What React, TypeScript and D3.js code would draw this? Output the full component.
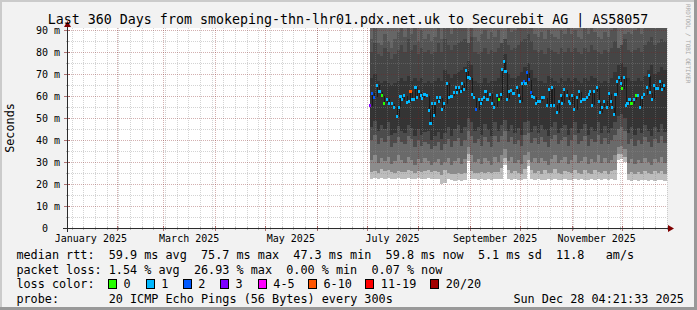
import React from 'react';
import * as d3 from 'd3';

// ---------- data ----------
const START = Date.UTC(2025, 0, 2, 4, 21, 33);
const END = Date.UTC(2025, 11, 28, 4, 21, 33);
const DAY = 86400000;
const JUL1 = Date.UTC(2025, 6, 1);

const title = 'Last 360 Days from smokeping-thn-lhr01.pdx.net.uk to Securebit AG | AS58057';
const yTickValues = [0, 10, 20, 30, 40, 50, 60, 70, 80, 90];
const yMinorValues = [5, 15, 25, 35, 45, 55, 65, 75, 85];
const monthLabels = ['January 2025', 'March 2025', 'May 2025', 'July 2025', 'September 2025', 'November 2025'];
const monthLabelIdx = [0, 2, 4, 6, 8, 10];

// medians: day offset from Jul 1, value in ms, lost pings
const medDay = [
  2.0, 3.2, 4.4, 6.2, 7.6, 9.2, 10.4, 12.0, 13.2, 15.2,
  16.4, 18.0, 19.2, 20.2, 21.2, 22.4, 24.0, 25.2, 26.2, 27.2,
  28.4, 29.2, 30.0, 31.2, 32.6, 33.2, 34.6, 36.0, 37.2, 38.2,
  39.2, 40.1, 41.0, 42.0, 43.2, 44.0, 45.2, 46.4, 48.0, 49.2,
  50.8, 52.4, 53.3, 54.2, 55.2, 56.4, 57.2, 58.4, 59.6, 61.0,
  62.0, 63.2, 64.4, 65.6, 67.2, 68.4, 69.2, 70.4, 71.2, 72.4,
  74.0, 75.2, 76.4, 78.0, 79.2, 80.4, 81.2, 82.4, 83.2, 84.0,
  85.2, 86.4, 87.6, 88.4, 90.0, 91.2, 92.0, 93.2, 94.4, 95.2,
  96.0, 97.2, 98.4, 99.2, 100.4, 101.6, 102.8, 104.0, 105.2, 106.4,
  108.0, 109.2, 110.4, 111.2, 112.4, 114.0, 115.2, 116.4, 117.2, 118.4,
  120.0, 121.2, 122.0, 123.2, 124.4, 126.0, 127.2, 128.4, 129.6, 130.8,
  132.0, 133.2, 134.0, 135.2, 136.4, 138.0, 139.2, 140.0, 141.2, 142.4,
  144.0, 145.2, 146.4, 147.2, 148.4, 149.2, 150.0, 151.2, 152.4, 153.2,
  154.4, 155.6, 156.4, 157.6, 158.8, 160.4, 161.6, 162.8, 164.0, 165.2,
  166.4, 168.0, 169.2, 170.0, 171.2, 172.4, 173.6, 174.8, 176.0, 177.2, 178.4,
];
const medVal = [
  55.5, 61.2, 59.4, 65.0, 62.0, 60.1, 56.8, 58.6, 56.4, 56.4,
  55.0, 50.5, 55.0, 59.7, 58.3, 60.1, 57.1, 57.4, 62.0, 58.3,
  58.3, 64.0, 59.2, 62.0, 60.1, 59.0, 60.5, 60.1, 53.6, 47.4,
  56.5, 51.0, 56.8, 59.2, 57.4, 59.2, 54.0, 56.5, 65.9, 59.5,
  59.8, 61.4, 64.0, 61.4, 63.8, 62.0, 65.9, 62.9, 71.4, 68.6,
  68.0, 60.5, 59.2, 53.8, 58.3, 56.5, 58.3, 59.5, 62.0, 58.6,
  60.8, 56.8, 55.0, 60.1, 58.3, 60.5, 72.0, 75.6, 71.0, 58.6,
  62.0, 62.6, 61.0, 61.0, 63.8, 60.1, 57.4, 65.6, 66.8, 65.6,
  70.5, 67.4, 61.4, 59.9, 59.5, 56.5, 57.7, 57.7, 59.2, 59.2,
  55.6, 62.9, 55.6, 63.8, 55.9, 52.3, 57.7, 60.1, 56.8, 62.9,
  60.1, 57.4, 56.5, 60.1, 53.8, 59.2, 62.0, 57.7, 58.3, 58.3,
  59.2, 60.5, 62.0, 55.9, 62.0, 63.8, 57.4, 52.3, 55.0, 57.7,
  55.0, 61.0, 57.7, 54.7, 51.4, 60.5, 66.8, 68.6, 65.6, 63.2,
  68.3, 55.6, 56.5, 58.3, 56.5, 58.3, 60.1, 60.1, 55.0, 59.5,
  60.5, 64.0, 69.2, 61.4, 58.6, 64.7, 63.2, 63.2, 66.5, 62.9, 64.7,
];
const medLoss = [
  3, 2, 2, 1, 1, 0, 0, 1, 1, 1,
  1, 1, 1, 1, 1, 1, 1, 1, 8, 1,
  1, 1, 1, 1, 1, 1, 1, 1, 1, 1,
  1, 1, 1, 1, 1, 1, 1, 1, 1, 1,
  1, 1, 1, 1, 1, 1, 1, 1, 1, 1,
  1, 1, 1, 2, 1, 1, 1, 1, 1, 1,
  1, 1, 1, 1, 0, 1, 1, 1, 1, 1,
  1, 1, 1, 1, 1, 1, 1, 1, 2, 1,
  2, 2, 2, 1, 1, 1, 1, 1, 1, 1,
  1, 1, 1, 1, 1, 1, 1, 1, 1, 1,
  1, 1, 1, 1, 1, 1, 1, 1, 1, 1,
  1, 1, 1, 1, 1, 1, 1, 1, 1, 1,
  1, 1, 1, 1, 1, 1, 1, 1, 1, 0,
  1, 1, 1, 1, 0, 1, 0, 1, 1, 1,
  1, 1, 1, 1, 1, 1, 1, 1, 1, 1, 1,
];

// smoke: 2-day columns from Jul 3, band boundaries (ms)
const smokeLo = [
  22.5, 22.8, 22.3, 22.6, 22.4, 22.7, 22.5, 22.3, 22.6, 22.5,
  22.4, 22.8, 22.5, 22.3, 22.6, 22.4, 22.5, 22.7, 22.3, 22.5,
  22.4, 20.2, 20.4, 22.2, 21.6, 21.5, 21.7, 21.5, 21.6, 30.5,
  22.3, 22.1, 22.0, 22.2, 21.9, 22.1, 22.0, 22.2, 22.1, 22.3,
  28.5, 22.2, 22.0, 22.1, 22.0, 21.9, 22.2, 28.0, 22.1, 22.0,
  22.1, 21.9, 22.0, 22.2, 22.0, 22.1, 21.9, 22.0, 22.1, 22.0,
  21.9, 22.1, 22.0, 22.2, 22.0, 21.9, 22.1, 22.0, 22.2, 22.0,
  22.1, 21.9, 22.2, 22.0, 31.0, 31.2, 30.0, 21.6, 21.5, 21.6,
  21.5, 21.7, 21.6, 21.5, 21.6, 21.5, 21.7, 21.6, 21.5,
];
const smokeQ1 = [
  25.5, 26.0, 25.2, 27.0, 25.8, 26.2, 25.5, 25.0, 26.0, 25.6,
  25.4, 26.3, 25.8, 25.2, 26.0, 25.5, 25.8, 26.2, 25.3, 25.7,
  25.5, 24.0, 26.5, 25.0, 24.5, 24.6, 24.8, 24.4, 25.0, 33.5,
  25.8, 25.2, 25.0, 25.5, 25.0, 25.3, 25.1, 25.6, 25.4, 27.5,
  32.0, 26.5, 24.8, 26.0, 25.0, 24.6, 27.0, 31.0, 26.2, 24.9,
  25.8, 24.6, 26.4, 25.0, 24.8, 26.6, 25.2, 24.7, 26.0, 25.3,
  24.8, 26.2, 25.0, 24.6, 26.5, 25.1, 24.7, 26.3, 25.4, 24.9,
  26.0, 24.7, 25.8, 26.4, 33.5, 33.8, 32.5, 24.5, 25.6, 24.4,
  25.5, 24.6, 26.0, 24.8, 24.4, 25.7, 24.9, 26.1, 24.5,
];
const smokeQ2 = [
  31, 33, 29.5, 32, 30.5, 32.5, 29, 30.5, 33, 31,
  29.5, 32.5, 31, 28.5, 31.5, 29.5, 32, 30.5, 28.5, 30,
  31.5, 28.5, 30, 32, 28.5, 30.5, 32, 29, 31.5, 37,
  33, 30, 31.5, 29, 32, 30.5, 28.5, 32.5, 30, 33,
  36, 30.5, 32.5, 29.5, 31, 29, 33, 34.5, 30, 32,
  29.5, 32, 30.5, 28.5, 31.5, 33, 29.5, 31, 32.5, 29,
  31, 33, 29.5, 30.5, 32.5, 29, 31.5, 30, 33, 29.5,
  32, 29.5, 31, 33, 37, 37.5, 36, 29.5, 31.5, 29,
  31, 29.5, 32, 30, 28.5, 31.5, 30, 32.5, 29.5,
];
const smokeQ3 = [
  40, 42.5, 38, 41, 39, 42, 37, 38.5, 41.5, 39,
  38, 42, 40.5, 37, 40, 37.5, 39, 38, 36, 37.5,
  39, 35.5, 38, 40.5, 37, 39.5, 41, 37.5, 40, 44,
  42, 38.5, 40.5, 37.5, 41.5, 39, 37, 42, 39, 42,
  44, 39, 41.5, 38, 40, 37.5, 42.5, 43, 38.5, 41,
  38, 41.5, 39, 37, 40.5, 42.5, 38, 40, 41.5, 37.5,
  40, 42.5, 38, 39.5, 42, 37.5, 40.5, 39, 42.5, 38,
  41, 38, 40, 42.5, 45, 46, 44, 38, 40.5, 37.5,
  40, 38, 41.5, 39, 37, 40.5, 38.5, 42, 38.5,
];
const smokeQ4 = [
  46, 48.5, 44, 47, 45, 48, 42.5, 43, 46.5, 44,
  43, 47, 45.5, 42, 45, 42.5, 43.5, 44, 40, 42,
  43.5, 40.5, 43, 46, 42, 45, 47, 43, 46, 50,
  48, 44, 46, 42.5, 47.5, 44.5, 42, 48, 44, 47,
  49, 44, 47, 43, 45.5, 42.5, 48, 48.5, 43.5, 46.5,
  43, 47, 44.5, 42, 46, 48, 43, 45.5, 47, 42.5,
  45.5, 48, 43, 45, 47.5, 42.5, 46, 44, 48, 43,
  46.5, 43, 45.5, 48, 51, 52, 50, 43, 46, 42.5,
  45.5, 43, 47, 44, 42, 46, 43.5, 47.5, 43.5,
];
const smokeQ5 = [
  68, 70, 67, 66, 67, 66, 65, 66, 67, 68,
  67, 69, 67, 68, 67, 68, 66, 67, 66, 67,
  68, 67, 72, 70, 68, 70, 71, 72, 73, 76,
  74, 67, 66, 66, 68, 66, 67, 67, 68, 72,
  79, 70, 68, 68, 69, 71, 73, 75, 72, 68,
  67, 67, 66, 69, 68, 67, 66, 68, 67, 68,
  67, 68, 67, 66, 68, 67, 69, 68, 67, 66,
  67, 66, 68, 71, 74, 75, 73, 68, 67, 67,
  68, 67, 69, 72, 74, 70, 71, 73, 72,
];
const smokeQ6 = [
  80, 84, 79, 78, 82, 80, 77, 79, 81, 83,
  80, 86, 81, 83, 79, 82, 80, 81, 79, 80,
  84, 80, 86, 83, 81, 83, 84, 85, 86, 88,
  87, 80, 79, 80, 82, 79, 81, 80, 82, 85,
  92, 83, 81, 82, 83, 85, 86, 88, 85, 81,
  80, 81, 79, 82, 81, 80, 79, 82, 80, 82,
  80, 82, 80, 79, 82, 80, 83, 81, 80, 79,
  81, 80, 82, 85, 86, 88, 86, 81, 80, 81,
  82, 80, 83, 85, 87, 83, 84, 86, 85,
];
const smokeQ7 = [
  86, 92, 84, 83, 88, 85, 82, 86, 89, 93,
  87, 95, 88, 92, 85, 90, 86, 88, 85, 87,
  94, 86, 95, 92, 88, 91, 93, 94, 95, 84,
  96, 87, 85, 88, 90, 86, 89, 87, 90, 84,
  86, 92, 89, 90, 92, 93, 95, 96, 93, 88,
  87, 89, 86, 90, 88, 87, 86, 90, 88, 91,
  88, 90, 87, 86, 91, 88, 92, 89, 87, 86,
  89, 87, 90, 94, 82, 83, 88, 89, 88, 90,
  91, 88, 92, 94, 95, 91, 93, 95, 94,
];
const smokeColors = ['#bdbdbd', '#8c8c8c', '#6a6a6a', '#4c4c4c', '#343434', '#454545', '#545454', '#666666'];

const lossLabels = ['0', '1', '2', '3', '4-5', '6-10', '11-19', '20/20'];
const lossColors = ['#26ff00', '#00b8ff', '#0059ff', '#7e00ff', '#ff00ff', '#ff5500', '#ff0000', '#a10000'];
const lossUpper = [0, 1, 2, 3, 5, 10, 19, 20];

const legendLine1 = ['median rtt:', '59.9 ms avg', '75.7 ms max', '47.3 ms min', '59.8 ms now', '5.1 ms sd', '11.8', 'am/s'];
const legendLine1Col = [0, 13, 26, 39, 52, 65, 76, 83];
const legendLine2 = ['packet loss:', '1.54 % avg', '26.93 % max', '0.00 % min', '0.07 % now'];
const legendLine2Col = [0, 13, 25, 38, 50];
const probeText = ['probe:', '20 ICMP Echo Pings (56 Bytes) every 300s', 'Sun Dec 28 04:21:33 2025'];
const probeCol = [0, 13, 70];

// ---------- layout ----------
const W = 697, H = 310;
const PL = 67, PR = 667, PT = 28, PB = 228;
const FONT = 'DejaVu Sans Mono';
const CH = 7.1; // legend char advance
const LX = 16.4;

function lossColor(l: number) {
  for (let i = 0; i < lossUpper.length; i++) if (l <= lossUpper[i]) return lossColors[i];
  return lossColors[lossColors.length - 1];
}

export default function App() {
  const x = d3.scaleUtc().domain([START, END]).range([PL, PR]);
  const y = d3.scaleLinear().domain([0, (PB - PT) / 2.2]).range([PB, PT]);
  const yMax = y.domain()[1];

  const months = d3.utcMonth.range(new Date(START), new Date(END)).map(d => d.getTime()).filter(t => t > START);
  const weeks = d3.utcSunday.range(new Date(START), new Date(END)).map(d => d.getTime());
  const labelTimes = monthLabelIdx.map(m => {
    const a = Date.UTC(2025, m, 1), b = Date.UTC(2025, m + 1, 1);
    return (a + b) / 2;
  });

  const bands = [smokeLo, smokeQ1, smokeQ2, smokeQ3, smokeQ4, smokeQ5, smokeQ6, smokeQ7];
  const smokeRects: any[] = [];
  smokeLo.forEach((_, k) => {
    const t0 = JUL1 + (2 + 2 * k) * DAY;
    const x0 = x(t0);
    const x1 = Math.min(x(t0 + 2 * DAY), PR);
    for (let b = 0; b < bands.length; b++) {
      const lo = bands[b][k];
      const hi = b + 1 < bands.length ? bands[b + 1][k] : yMax;
      const l = Math.min(lo, yMax), h = Math.min(hi, yMax);
      if (h <= l) continue;
      smokeRects.push(
        <rect key={`s${k}-${b}`} x={x0} width={x1 - x0 + 0.05} y={y(h)} height={y(l) - y(h)} fill={smokeColors[b]} />
      );
    }
  });

  const medX = medDay.map(d => x(JUL1 + d * DAY));

  const grey = '#8C8C8C';
  const red = '#821E1E';

  return (
    <svg width={W} height={H} style={{ position: 'absolute', left: 0, top: 0 }} fontFamily={FONT}>
      <rect x={0} y={0} width={W} height={H} fill="#f2f2f2" />
      <rect x={0} y={0} width={W} height={2} fill="#cbcbcb" />
      <rect x={0} y={0} width={2} height={H} fill="#cbcbcb" />
      <rect x={W - 3} y={0} width={3} height={H} fill="#999999" />
      <rect x={0} y={H - 3} width={W} height={3} fill="#999999" />

      <rect x={PL} y={PT} width={PR - PL} height={PB - PT} fill="#ffffff" />

      <g shapeRendering="crispEdges">{smokeRects}</g>

      <g shapeRendering="crispEdges" strokeWidth={1} strokeDasharray="1,1">
        {yMinorValues.map(v => (
          <line key={`hm${v}`} x1={PL} x2={PR} y1={Math.round(y(v)) + 0.5} y2={Math.round(y(v)) + 0.5} stroke={grey} strokeOpacity={0.38} />
        ))}
        {weeks.map(t => (
          <line key={`vw${t}`} x1={Math.round(x(t)) + 0.5} x2={Math.round(x(t)) + 0.5} y1={PT} y2={PB} stroke={grey} strokeOpacity={0.38} />
        ))}
        {yTickValues.filter(v => v > 0).map(v => (
          <line key={`hM${v}`} x1={PL} x2={PR} y1={Math.round(y(v)) + 0.5} y2={Math.round(y(v)) + 0.5} stroke={red} strokeOpacity={0.35} />
        ))}
        {months.map(t => (
          <line key={`vM${t}`} x1={Math.round(x(t)) + 0.5} x2={Math.round(x(t)) + 0.5} y1={PT} y2={PB} stroke={red} strokeOpacity={0.35} />
        ))}
      </g>

      <g stroke="#1a1a1a" strokeWidth={1} shapeRendering="crispEdges">
        {medVal.map((v, i) => i === 0 ? null : (
          <line key={`mc${i}`} x1={Math.round(medX[i]) + 0.5} x2={Math.round(medX[i]) + 0.5} y1={y(medVal[i - 1])} y2={y(v)} />
        ))}
      </g>
      <g shapeRendering="crispEdges">
        {medVal.map((v, i) => (
          <rect key={`m${i}`} x={medX[i] - 1} y={y(v) - 1.5} width={2.2} height={3} fill={lossColor(medLoss[i])} />
        ))}
      </g>

      <g shapeRendering="crispEdges">
        {weeks.map(t => (
          <line key={`tw${t}`} x1={Math.round(x(t)) + 0.5} x2={Math.round(x(t)) + 0.5} y1={PB - 1} y2={PB + 2} stroke={grey} strokeOpacity={0.6} />
        ))}
        {months.map(t => (
          <line key={`tm${t}`} x1={Math.round(x(t)) + 0.5} x2={Math.round(x(t)) + 0.5} y1={PB - 2} y2={PB + 3} stroke={red} strokeOpacity={0.6} />
        ))}
        {yMinorValues.map(v => (
          <line key={`ty${v}`} x1={PL - 1} x2={PL + 2} y1={Math.round(y(v)) + 0.5} y2={Math.round(y(v)) + 0.5} stroke={grey} strokeOpacity={0.6} />
        ))}
        {yTickValues.map(v => (
          <line key={`tY${v}`} x1={PL - 3} x2={PL + 3} y1={Math.round(y(v)) + 0.5} y2={Math.round(y(v)) + 0.5} stroke={red} strokeOpacity={0.6} />
        ))}
        <line x1={PL - 4} x2={PR + 2} y1={PB + 0.5} y2={PB + 0.5} stroke="#2c2c2c" />
        <line x1={PL + 0.5} x2={PL + 0.5} y1={PB + 4} y2={PT - 2} stroke="#2c2c2c" />
      </g>
      <path d={`M${PR + 1},${PB - 3} L${PR + 7},${PB + 0.5} L${PR + 1},${PB + 4} Z`} fill="#7f0000" />
      <path d={`M${PL - 3},${PT - 1} L${PL + 0.5},${PT - 7} L${PL + 4},${PT - 1} Z`} fill="#7f0000" />

      <g fontSize={10} fill="#000">
        {yTickValues.map(v => (
          <text key={`yl${v}`} x={v === 0 ? 48 : 60} y={y(v) + 3.5} textAnchor="end">{v === 0 ? '0' : `${v} m`}</text>
        ))}
      </g>
      <g fontSize={10} fill="#000">
        {labelTimes.map((t, i) => (
          <text key={`xl${i}`} x={x(t)} y={241.5} textAnchor="middle">{monthLabels[i]}</text>
        ))}
      </g>

      <text x={348} y={23.5} fontSize={13.3} textAnchor="middle" fill="#000">{title}</text>
      <text transform="translate(14,128) rotate(-90)" fontSize={11.8} textAnchor="middle" fill="#000">Seconds</text>
      <text transform="translate(686,4) rotate(90)" fontSize={6} fill="#a8a8a8">RRDTOOL / TOBI OETIKER</text>

      <g fontSize={11.8} fill="#000">
        {legendLine1.map((s, i) => (
          <text key={`l1${i}`} x={LX + legendLine1Col[i] * CH} y={259}>{s}</text>
        ))}
        {legendLine2.map((s, i) => (
          <text key={`l2${i}`} x={LX + legendLine2Col[i] * CH} y={273.5}>{s}</text>
        ))}
        <text x={LX} y={288}>loss color:</text>
        {probeText.map((s, i) => (
          <text key={`l4${i}`} x={LX + probeCol[i] * CH} y={302.5}>{s}</text>
        ))}
      </g>
      <g fontSize={11.8} fill="#000">
        {lossLabels.map((s, i) => {
          const bx = [108, 145.8, 182.7, 220, 257.8, 308, 365.3, 430.2][i];
          return (
            <g key={`lc${i}`}>
              <rect x={bx + 0.5} y={279.5} width={8} height={9} fill={lossColors[i]} stroke="#000" strokeWidth={1} shapeRendering="crispEdges" />
              <text x={bx + 15.5} y={288}>{s}</text>
            </g>
          );
        })}
      </g>
    </svg>
  );
}
